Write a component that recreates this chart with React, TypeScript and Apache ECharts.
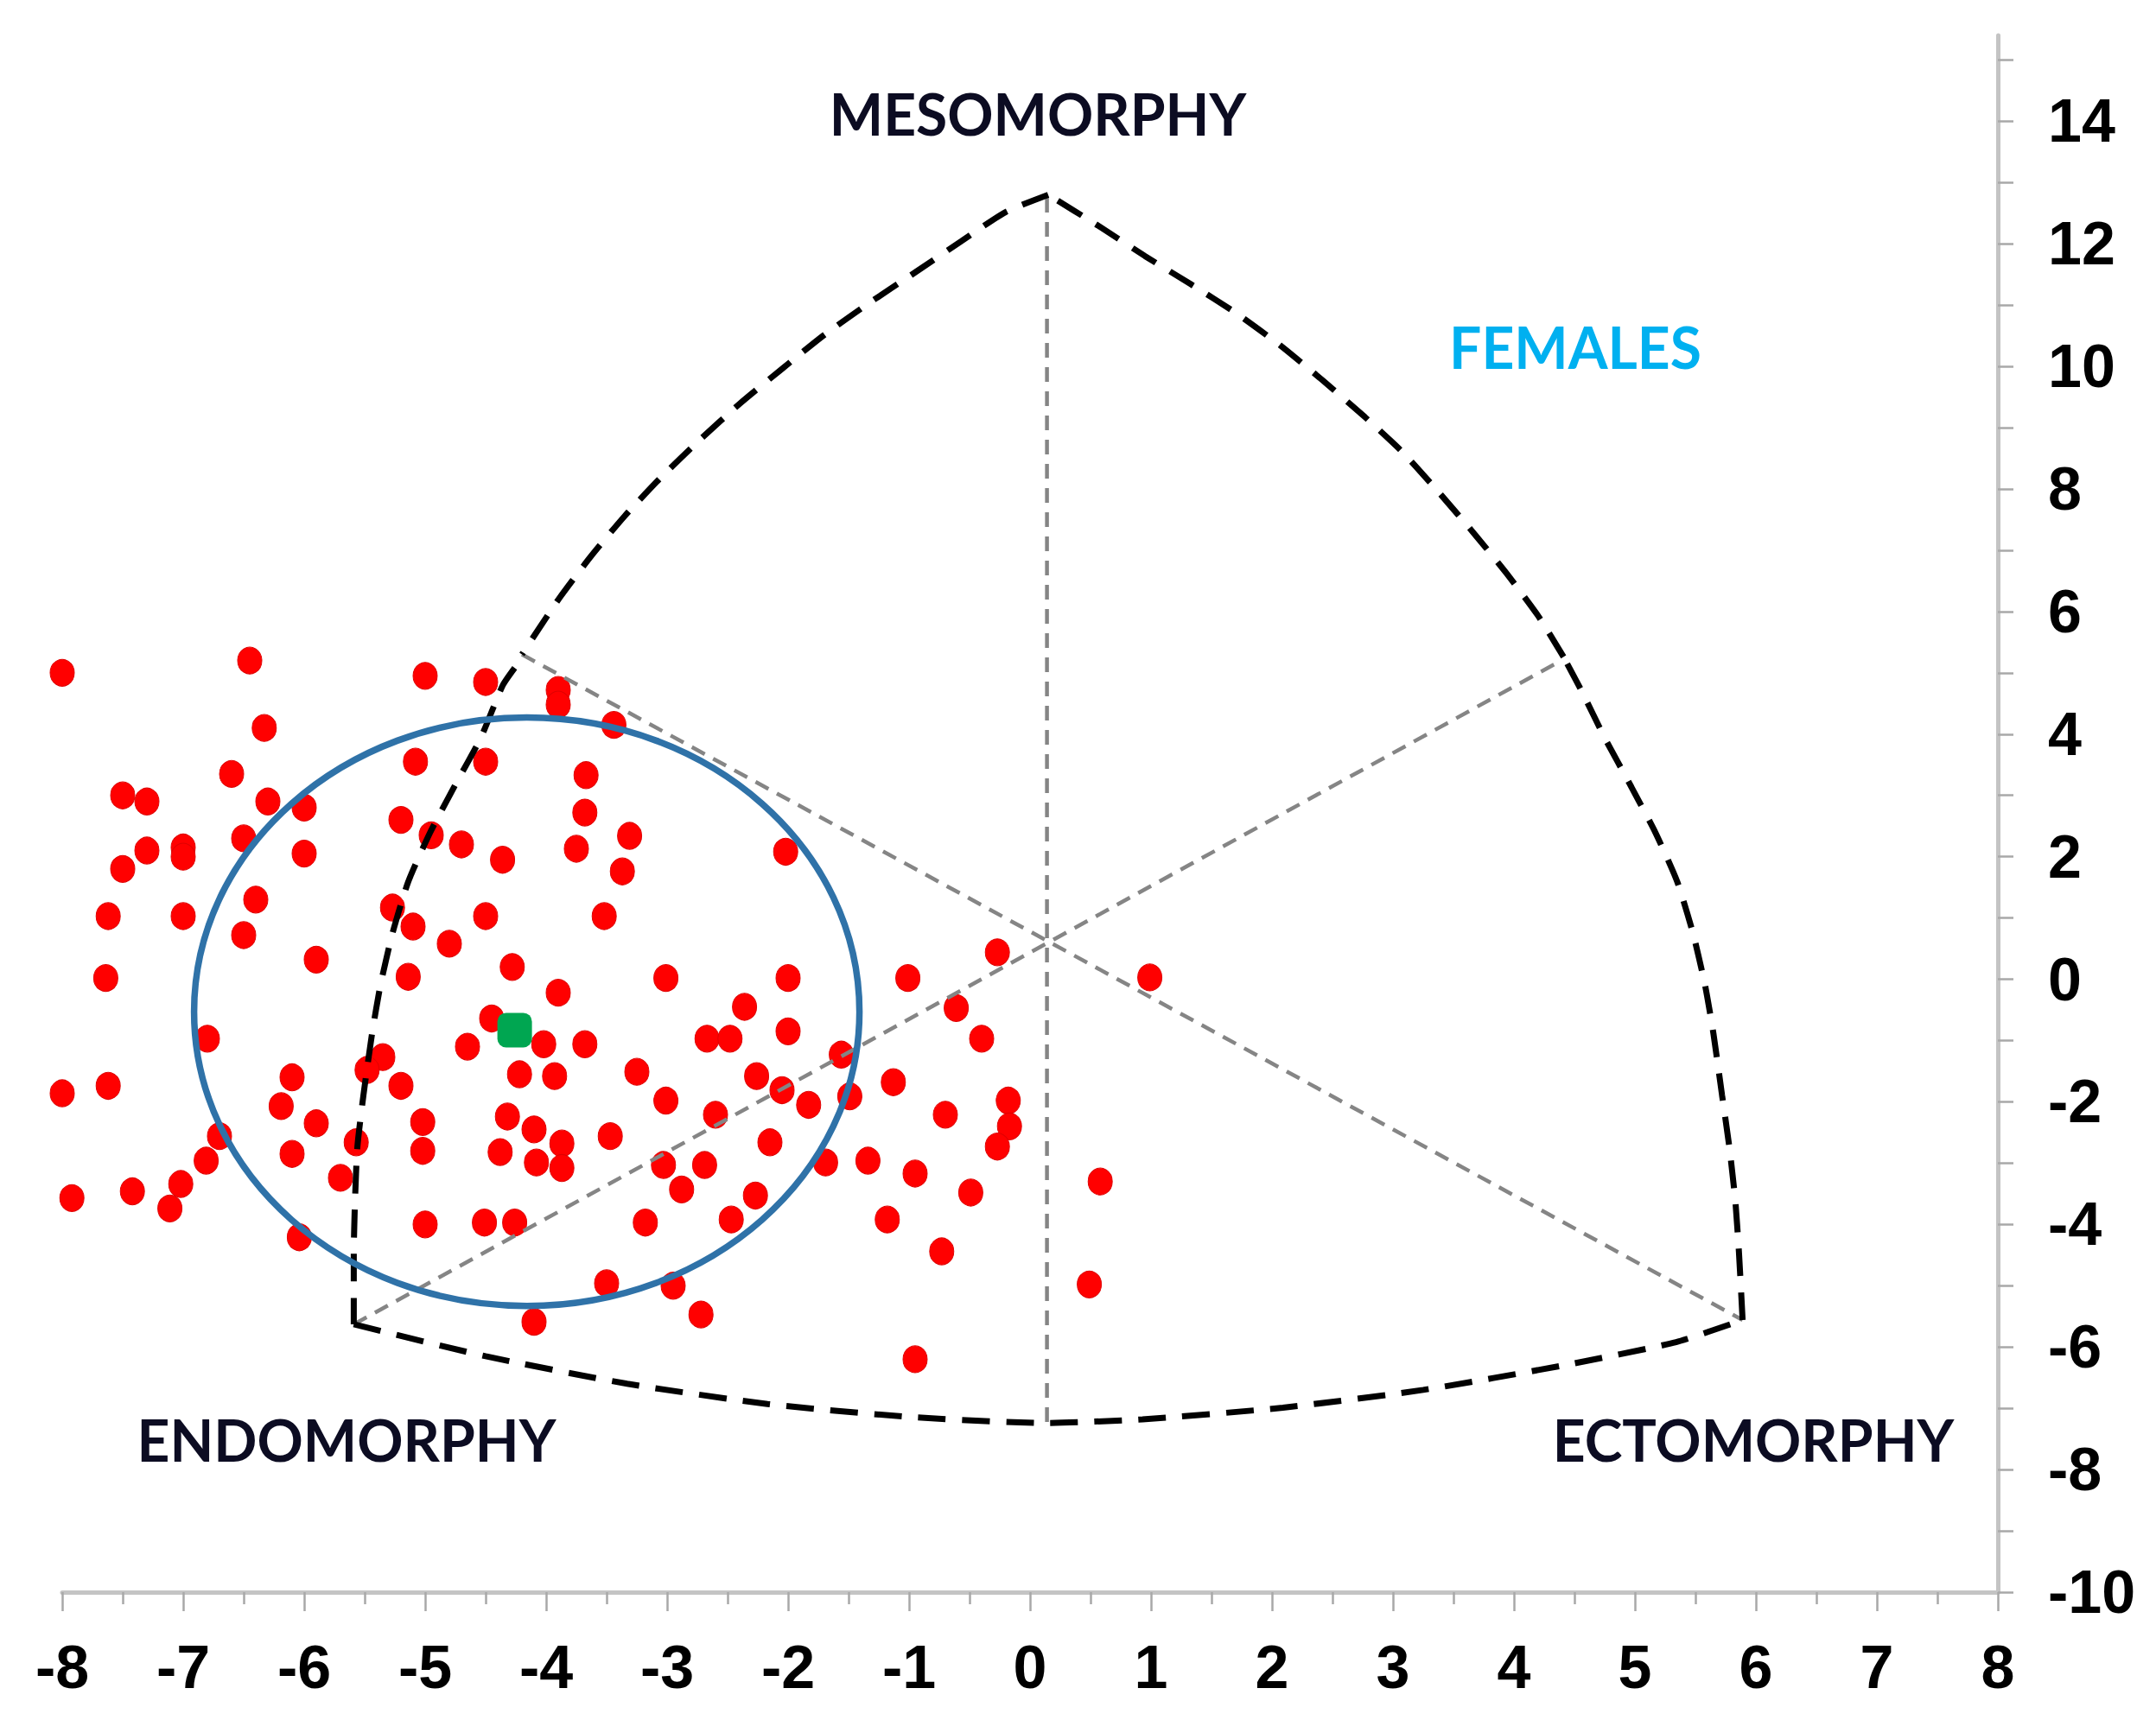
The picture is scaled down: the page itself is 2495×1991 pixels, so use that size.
import React, { useEffect, useRef } from 'react';
import * as echarts from 'echarts';

// ---- axis ticks ----
const X_TICKS = [-8, -7, -6, -5, -4, -3, -2, -1, 0, 1, 2, 3, 4, 5, 6, 7, 8];
const Y_LABELS = [-10, -8, -6, -4, -2, 0, 2, 4, 6, 8, 10, 12, 14];
const Y_TICKS = [-10, -9, -8, -7, -6, -5, -4, -3, -2, -1, 0, 1, 2, 3, 4, 5, 6, 7, 8, 9, 10, 11, 12, 13, 14, 15];

// ---- individual somatotypes (X, Y somatochart coordinates) ----
const dotX = [
  -8.0, -6.45, -6.33, -5.0, -4.5, -3.9, -3.9, -3.44, -6.6, -5.08, -4.5, -3.67, -7.5, -7.3, -6.3, -6.0,
  -3.68, -5.2, -4.95, -3.31, -6.5, -4.7, -7.3, -3.75, -7.0, -7.0, -6.0, -2.02, -4.36, -7.5, -3.37, -6.4,
  -5.27, -7.62, -7.0, -4.5, -3.52, -5.1, -6.5, -4.8, -0.27, -5.9, -4.28, -7.64, -5.14, -3.01, -2.0, -1.01,
  0.99, -3.9, -2.36, -0.61, -4.45, -2.0, -6.8, -2.67, -2.48, -0.4, -4.02, -3.68, -4.65, -1.56, -5.35, -5.48,
  -3.25, -4.22, -3.93, -6.1, -2.26, -1.13, -7.62, -5.2, -2.05, -8.0, -1.49, -3.01, -0.18, -1.83, -6.19, -0.7,
  -2.6, -4.32, -5.02, -5.9, -0.17, -4.1, -6.7, -3.47, -5.57, -2.15, -3.87, -0.27, -5.02, -4.38, -6.1, -6.81,
  -1.34, -4.08, -1.69, -3.03, -2.69, -3.87, -0.95, -5.7, 0.58, -7.02, -2.88, -7.42, -0.49, -2.27, -7.92, -7.11,
  -2.47, -1.18, -5.0, -4.51, -4.26, -3.18, -6.04, -0.73, 0.49, -3.5, -2.95, -2.72, -4.1, -0.95,
];
const dotY = [
  5.0, 5.2, 4.1, 4.95, 4.85, 4.72, 4.48, 4.15, 3.35, 3.55, 3.55, 3.33, 3.0, 2.9, 2.9, 2.8,
  2.72, 2.6, 2.35, 2.34, 2.3, 2.2, 2.1, 2.13, 2.15, 2.0, 2.05, 2.08, 1.95, 1.8, 1.76, 1.3,
  1.17, 1.03, 1.03, 1.03, 1.03, 0.86, 0.72, 0.58, 0.44, 0.32, 0.2, 0.02, 0.04, 0.02, 0.02, 0.02,
  0.03, -0.22, -0.45, -0.47, -0.64, -0.85, -0.97, -0.97, -0.97, -0.97, -1.06, -1.06, -1.1, -1.23, -1.27, -1.48,
  -1.51, -1.55, -1.58, -1.6, -1.58, -1.68, -1.74, -1.74, -1.81, -1.86, -1.91, -1.98, -1.98, -2.05, -2.07, -2.21,
  -2.21, -2.24, -2.33, -2.35, -2.4, -2.45, -2.56, -2.56, -2.66, -2.66, -2.68, -2.73, -2.8, -2.82, -2.85, -2.96,
  -2.96, -2.99, -2.99, -3.03, -3.03, -3.08, -3.17, -3.24, -3.3, -3.34, -3.43, -3.46, -3.48, -3.53, -3.57, -3.74,
  -3.92, -3.92, -4.0, -3.97, -3.97, -3.97, -4.21, -4.44, -4.98, -4.96, -5.0, -5.47, -5.59, -6.2,
];

// ---- mean somatotype and dispersion ellipse ----
const meanPoint = [-4.26, -0.83];
const ellipseCenter = [-4.16, -0.53];
const ellipseRadii = [2.75, 4.8];

// ---- somatochart outline (X, Y) ----
const arcTopLeft = [
  [0.15, 12.8], [-0.2, 12.52], [-0.57, 12.04], [-0.96, 11.52], [-1.34, 11.02], [-1.71, 10.5], [-2.05, 9.96],
  [-2.4, 9.39], [-2.73, 8.8], [-3.05, 8.19], [-3.35, 7.56], [-3.63, 6.9], [-3.89, 6.22], [-4.08, 5.66], [-4.2, 5.3],
];
const arcLowerLeft = [
  [-4.26, 5.08], [-4.36, 4.79], [-4.54, 3.94], [-4.76, 3.14], [-4.96, 2.39], [-5.14, 1.59], [-5.27, 0.75],
  [-5.37, -0.1], [-5.44, -0.9], [-5.51, -1.89], [-5.56, -2.73], [-5.58, -3.62], [-5.59, -4.46], [-5.59, -5.63],
];
const arcBottom = [
  [-5.59, -5.63], [-4.5, -6.15], [-3.33, -6.6], [-2.17, -6.93], [-1.01, -7.14], [0.12, -7.24], [0.93, -7.18],
  [2.09, -6.99], [3.25, -6.7], [4.41, -6.3], [5.34, -5.92], [5.89, -5.56],
];
const arcLowerRight = [
  [5.89, -5.56], [5.86, -4.46], [5.83, -3.62], [5.78, -2.73], [5.72, -1.89], [5.65, -0.9], [5.58, -0.1],
  [5.48, 0.75], [5.35, 1.59], [5.17, 2.39], [4.97, 3.14], [4.75, 3.94], [4.56, 4.7], [4.41, 5.26],
];
const arcTopRight = [
  [4.41, 5.26], [4.2, 5.93], [3.94, 6.62], [3.68, 7.25], [3.39, 7.92], [3.08, 8.6], [2.77, 9.17], [2.42, 9.77],
  [2.07, 10.34], [1.71, 10.86], [1.33, 11.34], [0.95, 11.8], [0.56, 12.3], [0.15, 12.8],
];
const axisMeso = [[0.14, 12.75], [0.14, -7.3]];
const axisEcto = [[-4.2, 5.3], [5.89, -5.56]];
const axisEndo = [[-5.59, -5.63], [4.39, 5.2]];

const LABEL_COLOR = '#0c0c22';

export default function App() {
  const ref = useRef<HTMLDivElement>(null);

  useEffect(() => {
    if (!ref.current) return;
    const chart = echarts.init(ref.current, undefined, { renderer: 'svg' });

    const outlineStyle = { color: '#000000', width: 7, type: [32, 19] as number[] };
    const guideStyle = { color: '#858585', width: 4.5, type: [17, 11] as number[] };
    const lineSeries = (data: number[][], style: any, smooth: number) => ({
      type: 'line',
      data,
      symbol: 'none',
      smooth,
      lineStyle: style,
      z: 3,
      silent: true,
      emphasis: { disabled: true },
    });

    const labelText = (text: string, x: number, y: number, fill: string) => ({
      type: 'text',
      x,
      y,
      style: { text, fill, font: 'bold 66px Lato, sans-serif', align: 'center', verticalAlign: 'middle' },
    });

    const option: any = {
      animation: false,
      backgroundColor: '#ffffff',
      grid: { left: 72, right: 183, top: 41, bottom: 148, containLabel: false },
      xAxis: {
        type: 'value',
        min: X_TICKS[0],
        max: X_TICKS[X_TICKS.length - 1],
        interval: 1,
        position: 'bottom',
        axisLine: { onZero: false, lineStyle: { color: '#c4c4c4', width: 5 } },
        axisTick: { show: true, length: 22, lineStyle: { color: '#a8a8a8', width: 2.5 } },
        minorTick: { show: true, splitNumber: 2, length: 14, lineStyle: { color: '#a8a8a8', width: 2.5 } },
        splitLine: { show: false },
        axisLabel: {
          margin: 52,
          fontSize: 70,
          fontWeight: 'bold',
          fontFamily: 'Liberation Sans, Arial, sans-serif',
          color: '#000000',
          formatter: (v: number) => (X_TICKS.includes(v) ? String(v) : ''),
        },
      },
      yAxis: {
        type: 'value',
        min: -10,
        max: 15.4,
        interval: 1,
        position: 'right',
        axisLine: { onZero: false, lineStyle: { color: '#c4c4c4', width: 5 } },
        axisTick: {
          show: true,
          length: 18,
          customValues: Y_TICKS,
          lineStyle: { color: '#a8a8a8', width: 2.5 },
        },
        splitLine: { show: false },
        axisLabel: {
          margin: 58,
          fontSize: 70,
          fontWeight: 'bold',
          fontFamily: 'Liberation Sans, Arial, sans-serif',
          color: '#000000',
          customValues: Y_LABELS,
          formatter: (v: number) => (Y_LABELS.includes(v) ? String(v) : ''),
        },
      },
      graphic: [
        labelText('MESOMORPHY', 1201, 131, LABEL_COLOR),
        labelText('FEMALES', 1823, 401, '#00b0f0'),
        labelText('ENDOMORPHY', 401, 1666, LABEL_COLOR),
        labelText('ECTOMORPHY', 2029, 1666, LABEL_COLOR),
      ],
      series: [
        {
          type: 'scatter',
          data: dotX.map((x, i) => [x, dotY[i]]),
          symbol: 'circle',
          symbolSize: [28, 31],
          itemStyle: { color: '#ff0000', opacity: 1, borderColor: '#e00000', borderWidth: 1 },
          z: 2,
          silent: true,
          emphasis: { disabled: true },
        },
        lineSeries(axisMeso, guideStyle, 0),
        lineSeries(axisEcto, guideStyle, 0),
        lineSeries(axisEndo, guideStyle, 0),
        lineSeries(arcTopLeft, outlineStyle, 0.2),
        lineSeries(arcLowerLeft, outlineStyle, 0.2),
        lineSeries(arcBottom, outlineStyle, 0.2),
        lineSeries(arcLowerRight, outlineStyle, 0.2),
        lineSeries(arcTopRight, outlineStyle, 0.2),
        {
          type: 'custom',
          coordinateSystem: 'cartesian2d',
          data: [[ellipseCenter[0], ellipseCenter[1], ellipseRadii[0], ellipseRadii[1]]],
          encode: { x: 0, y: 1 },
          z: 4,
          silent: true,
          renderItem: (_params: any, api: any) => {
            const c = api.coord([api.value(0), api.value(1)]);
            const s = api.size([api.value(2), api.value(3)]);
            return {
              type: 'ellipse',
              shape: { cx: c[0], cy: c[1], rx: s[0], ry: s[1] },
              style: { fill: 'none', stroke: '#2f72a8', lineWidth: 7.5 },
            };
          },
        },
        {
          type: 'scatter',
          data: [meanPoint],
          symbol: 'roundRect',
          symbolSize: 40,
          itemStyle: { color: '#00a651', opacity: 1 },
          z: 5,
          silent: true,
          emphasis: { disabled: true },
        },
      ],
    };

    chart.setOption(option);
    return () => chart.dispose();
  }, []);

  return (
    <div
      ref={ref}
      style={{ position: 'absolute', left: 0, top: 0, width: 2495, height: 1991, background: '#ffffff' }}
    />
  );
}
